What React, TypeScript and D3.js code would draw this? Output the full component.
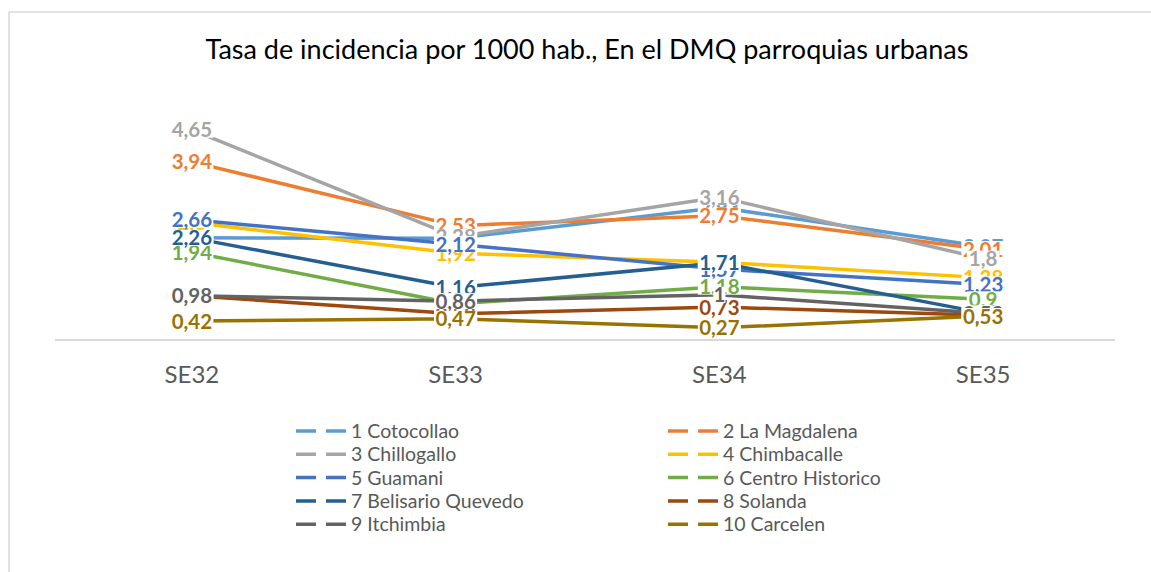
import * as d3 from "d3";

const WIDTH = 1151;
const HEIGHT = 572;

const title = "Tasa de incidencia por 1000 hab., En el DMQ parroquias urbanas";
const categories = ["SE32", "SE33", "SE34", "SE35"];

const seriesNames = [
  "1 Cotocollao",
  "2 La Magdalena",
  "3 Chillogallo",
  "4 Chimbacalle",
  "5 Guamani",
  "6 Centro Historico",
  "7 Belisario Quevedo",
  "8 Solanda",
  "9 Itchimbia",
  "10 Carcelen",
];

const seriesColors = [
  "#5B9BD5",
  "#ED7D31",
  "#A5A5A5",
  "#FFC000",
  "#4472C4",
  "#70AD47",
  "#255E91",
  "#9E480E",
  "#636363",
  "#997300",
];

// values per week SE32..SE35
const cotocollao = [2.26, 2.25, 2.93, 2.07];
const laMagdalena = [3.94, 2.53, 2.75, 2.01];
const chillogallo = [4.65, 2.28, 3.16, 1.8];
const chimbacalle = [2.6, 1.92, 1.72, 1.38];
const guamani = [2.66, 2.12, 1.57, 1.23];
const centroHistorico = [1.94, 0.8, 1.18, 0.9];
const belisarioQuevedo = [2.26, 1.16, 1.71, 0.6];
const solanda = [0.98, 0.58, 0.73, 0.55];
const itchimbia = [0.98, 0.86, 1, 0.59];
const carcelen = [0.42, 0.47, 0.27, 0.53];

const seriesValues = [
  cotocollao,
  laMagdalena,
  chillogallo,
  chimbacalle,
  guamani,
  centroHistorico,
  belisarioQuevedo,
  solanda,
  itchimbia,
  carcelen,
];

const FONT = "Lato, 'Open Sans', sans-serif";

const fmt = (v: number) => String(v).replace(".", ",");

export default function App() {
  const xScale = d3.scaleBand<string>().domain(categories).range([60, 1115]);
  const yScale = d3.scaleLinear().domain([0, 5]).range([340, 114]);
  const cx = (c: string) => (xScale(c) ?? 0) + xScale.bandwidth() / 2;

  const line = d3
    .line<number>()
    .x((_, i) => cx(categories[i]))
    .y((d) => yScale(d));

  const labelSize = 20.5;

  return (
    <svg
      width={WIDTH}
      height={HEIGHT}
      style={{ position: "absolute", left: 0, top: 0, background: "#fff" }}
      fontFamily={FONT}
    >
      <rect x={0} y={0} width={WIDTH} height={HEIGHT} fill="#fff" />
      <rect
        x={9}
        y={12}
        width={1300}
        height={800}
        fill="none"
        stroke="#d9d9d9"
        strokeWidth={1.5}
      />
      <text x={587} y={59} textAnchor="middle" fontSize={27} fill="#000">
        {title}
      </text>

      {/* x axis */}
      <line
        x1={xScale.range()[0] - 5}
        x2={xScale.range()[1]}
        y1={yScale(0)}
        y2={yScale(0)}
        stroke="#d9d9d9"
        strokeWidth={2}
      />
      {categories.map((c) => (
        <text
          key={c}
          x={cx(c)}
          y={383}
          textAnchor="middle"
          fontSize={24}
          fill="#595959"
        >
          {c}
        </text>
      ))}

      {/* lines */}
      {seriesValues.map((vals, s) => (
        <path
          key={seriesNames[s]}
          d={line(vals) ?? ""}
          fill="none"
          stroke={seriesColors[s]}
          strokeWidth={3.5}
          strokeLinejoin="round"
        />
      ))}

      {/* data labels */}
      {seriesValues.map((vals, s) =>
        vals.map((v, i) => {
          const t = fmt(v);
          const w = t.length * labelSize * 0.5 + 2;
          const x = cx(categories[i]);
          const y = yScale(v);
          return (
            <g key={`${s}-${i}`}>
              <rect
                x={x - w / 2}
                y={y - 8}
                width={w}
                height={16}
                fill="#fff"
              />
              <text
                x={x}
                y={y + 7.5}
                textAnchor="middle"
                fontSize={labelSize}
                fontWeight="bold"
                fill={seriesColors[s]}
              >
                {t}
              </text>
            </g>
          );
        })
      )}

      {/* legend */}
      {seriesNames.map((name, s) => {
        const col = s % 2;
        const row = Math.floor(s / 2);
        const lx = col === 0 ? 296 : 668;
        const ly = 431 + row * 23.3;
        return (
          <g key={name}>
            <line
              x1={lx}
              x2={lx + 54}
              y1={ly}
              y2={ly}
              stroke={seriesColors[s]}
              strokeWidth={3.5}
              strokeDasharray="20,10"
            />
            <text x={lx + 55} y={ly + 7} fontSize={19.5} fill="#595959">
              {name}
            </text>
          </g>
        );
      })}
    </svg>
  );
}
